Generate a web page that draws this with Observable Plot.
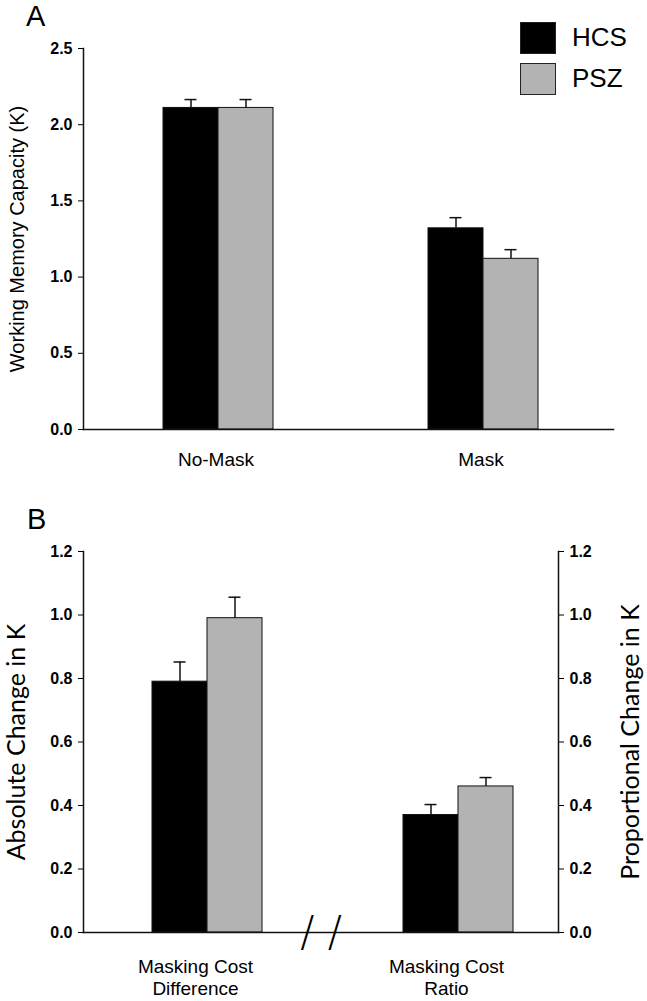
<!DOCTYPE html>
<html><head><meta charset="utf-8">
<script src="https://cdn.jsdelivr.net/npm/d3@7"></script>
<script src="https://cdn.jsdelivr.net/npm/@observablehq/plot@0.6"></script>
<style>
html,body{margin:0;padding:0;background:#fff;}
#wrap{position:relative;width:647px;height:1001px;overflow:hidden;font-family:"Liberation Sans",Arial,sans-serif;color:#000;}
#wrap svg{display:block;}
.panel{position:absolute;left:0;}
.letter{position:absolute;font-size:29px;line-height:1;}
.legend{position:absolute;left:520px;top:17px;}
.legend .row{display:flex;align-items:center;height:41px;}
.legend .sw{display:inline-block;width:36px;height:32px;border:1.5px solid #222;box-sizing:border-box;margin-right:16px;}
.legend .lab{font-size:26px;}
</style></head><body><div id="wrap"></div>
<script>
// ---- data ----
const groups = ["HCS", "PSZ"];
const groupColors = ["#000000", "#b3b3b3"];

const conditionsA = ["No-Mask", "Mask"];
const capacityHCS = [2.11, 1.32];
const capacityPSZ = [2.11, 1.12];
const capacityErrHCS = [0.055, 0.07];
const capacityErrPSZ = [0.055, 0.06];
const yTicksA = [0, 0.5, 1.0, 1.5, 2.0, 2.5];
const yLabelA = "Working Memory Capacity (K)";

const measuresB = ["Difference", "Ratio"];
const measureLabelsB = ["Masking Cost\nDifference", "Masking Cost\nRatio"];
const costHCS = [0.79, 0.37];
const costPSZ = [0.99, 0.46];
const costErrHCS = [0.062, 0.033];
const costErrPSZ = [0.066, 0.028];
const yTicksB = [0, 0.2, 0.4, 0.6, 0.8, 1.0, 1.2];
const yLabelBLeft = "Absolute Change in K";
const yLabelBRight = "Proportional Change in K";
const breakMark = ["/ /"];

function table(cats, hcs, psz, eh, ep) {
  const rows = [];
  cats.forEach((c, i) => {
    rows.push({cat: c, group: groups[0], value: hcs[i], err: eh[i]});
    rows.push({cat: c, group: groups[1], value: psz[i], err: ep[i]});
  });
  return rows;
}
const dataA = table(conditionsA, capacityHCS, capacityPSZ, capacityErrHCS, capacityErrPSZ);
const dataB = table(measuresB, costHCS, costPSZ, costErrHCS, costErrPSZ);

const fmt = d3.format(".1f");
const FONT = "'Liberation Sans', Arial, sans-serif";
const LABFONT = "Lato, 'Open Sans', sans-serif";

function barMarks(data) {
  return [
    Plot.barY(data, {fx: "cat", x: "group", y: "value", fill: "group", stroke: "#111", strokeWidth: 1}),
    Plot.ruleX(data, {fx: "cat", x: "group", y1: "value", y2: d => d.value + d.err, stroke: "#111", strokeWidth: 1.5}),
    Plot.tickY(data, {fx: "cat", x: "group", y: d => d.value + d.err, insetLeft: 21.5, insetRight: 21.5, stroke: "#111", strokeWidth: 1.5})
  ];
}
const tickOpts = {tickSize: 5, tickPadding: 6, fontSize: 16, fontWeight: "bold", label: null};

const plotA = Plot.plot({
  width: 647, height: 490,
  marginTop: 48, marginBottom: 61, marginLeft: 83, marginRight: 17,
  style: {fontFamily: FONT, background: "#fff", color: "#000", overflow: "visible"},
  fx: {domain: conditionsA, paddingInner: 0, paddingOuter: 0.032, align: 0, label: null},
  x: {domain: groups, paddingInner: 0, paddingOuter: 1.409, align: 0.516, axis: null},
  y: {domain: [0, 2.5], axis: null},
  color: {domain: groups, range: groupColors},
  marks: [
    ...barMarks(dataA),
    Plot.frame({anchor: "bottom", facet: "super", stroke: "#111", strokeWidth: 1.5}),
    Plot.frame({anchor: "left", facet: "super", stroke: "#111", strokeWidth: 1.5}),
    Plot.axisY({ticks: yTicksA, tickFormat: fmt, ...tickOpts}),
    Plot.axisFx({anchor: "bottom", tickSize: 0, tickPadding: 23, fontSize: 19, label: null}),
    Plot.text([yLabelA], {text: d => d, frameAnchor: "left", textAnchor: "middle", lineAnchor: "middle", rotate: -90, dx: -66, fontSize: 20, facet: "super"})
  ]
});

const plotB = Plot.plot({
  width: 647, height: 511,
  marginTop: 61, marginBottom: 69, marginLeft: 83, marginRight: 89,
  style: {fontFamily: FONT, background: "#fff", color: "#000", overflow: "visible"},
  fx: {domain: measuresB, paddingInner: 0.1076, paddingOuter: 0, align: 0, label: null},
  x: {domain: groups, paddingInner: 0, paddingOuter: 1.036, align: 0.605, axis: null},
  y: {domain: [0, 1.2], axis: null},
  color: {domain: groups, range: groupColors},
  marks: [
    ...barMarks(dataB),
    Plot.frame({anchor: "bottom", facet: "super", stroke: "#111", strokeWidth: 1.5}),
    Plot.frame({anchor: "left", facet: "super", stroke: "#111", strokeWidth: 1.5}),
    Plot.frame({anchor: "right", facet: "super", stroke: "#111", strokeWidth: 1.5}),
    Plot.axisY({anchor: "left", ticks: yTicksB, tickFormat: fmt, ...tickOpts}),
    Plot.axisY({anchor: "right", ticks: yTicksB, tickFormat: fmt, ...tickOpts}),
    Plot.axisFx({anchor: "bottom", tickSize: 0, tickPadding: 24, fontSize: 19, lineHeight: 1.2, label: null,
      tickFormat: d => measureLabelsB[measuresB.indexOf(d)]}),
    Plot.text([yLabelBLeft], {text: d => d, frameAnchor: "left", textAnchor: "middle", lineAnchor: "middle", rotate: -90, dx: -67, fontSize: 25, fontFamily: LABFONT, facet: "super"}),
    Plot.text([yLabelBRight], {text: d => d, frameAnchor: "right", textAnchor: "middle", lineAnchor: "middle", rotate: -90, dx: 72, fontSize: 25, fontFamily: LABFONT, facet: "super"}),
    Plot.text(breakMark, {text: d => d, frameAnchor: "bottom", textAnchor: "middle", lineAnchor: "middle", fontSize: 42, fontFamily: "'DejaVu Sans', sans-serif", fontWeight: 200, facet: "super"})
  ]
});

const wrap = d3.select("#wrap");
const pa = wrap.append("div").attr("class", "panel").style("top", "0px");
pa.node().appendChild(plotA);
const pb = wrap.append("div").attr("class", "panel").style("top", "490px");
pb.node().appendChild(plotB);

wrap.append("div").attr("class", "letter").style("left", "26px").style("top", "2px").text("A");
wrap.append("div").attr("class", "letter").style("left", "27px").style("top", "505px").text("B");

const legend = wrap.append("div").attr("class", "legend");
groups.forEach((g, i) => {
  const row = legend.append("div").attr("class", "row");
  row.append("span").attr("class", "sw").style("background", groupColors[i]);
  row.append("span").attr("class", "lab").text(g);
});
</script>
</body></html>
